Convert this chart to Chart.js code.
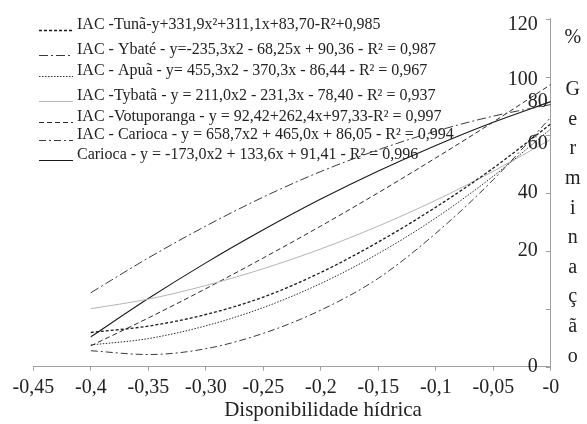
<!DOCTYPE html>
<html><head><meta charset="utf-8">
<script src="https://cdn.jsdelivr.net/npm/chart.js@4"></script>
<style>html,body{margin:0;padding:0;background:#fff}#wrap{width:587px;height:424px}</style>
</head><body><div id="wrap"><canvas id="c" width="587" height="424"></canvas></div>
<script>
// ---- data ----
const xValues     = [-0.4, -0.35, -0.3, -0.25, -0.2, -0.15, -0.1, -0.05, 0];
const tuna        = [11.8, 14.0, 18.0, 24.0, 32.5, 43.0, 55.0, 68.5, 83.7];
const ybate       = [25.5, 37.5, 48.5, 58.5, 67.3, 74.8, 81.2, 86.4, 90.4];
const apua        = [7.5, 9.7, 14.1, 20.4, 28.7, 39.0, 51.3, 65.7, 82.0];
const tybata      = [20.0, 23.3, 28.0, 33.8, 40.6, 48.5, 57.4, 67.4, 78.4];
const votuporanga = [7.2, 16.8, 26.9, 37.5, 48.5, 60.0, 72.0, 84.4, 97.3];
const iacCarioca  = [5.5, 4.2, 6.2, 11.5, 19.5, 30.5, 46.0, 64.5, 86.0];
const carioca     = [10.3, 23.5, 35.8, 47.2, 57.8, 67.5, 76.3, 84.3, 91.4];

const seriesLabels = [
  "IAC -Tunã-y+331,9x²+311,1x+83,70-R²+0,985",
  "IAC - Ybaté - y=-235,3x2 - 68,25x + 90,36 - R² = 0,987",
  "IAC - Apuã - y= 455,3x2 - 370,3x - 86,44 - R² = 0,967",
  "IAC -Tybatã - y = 211,0x2 - 231,3x - 78,40 - R² = 0,937",
  "IAC -Votuporanga - y = 92,42+262,4x+97,33-R² = 0,997",
  "IAC - Carioca - y = 658,7x2 + 465,0x + 86,05 - R² = 0,994",
  "Carioca - y = -173,0x2 + 133,6x + 91,41 - R² = 0,996"
];

const xTickValues = [-0.45, -0.4, -0.35, -0.3, -0.25, -0.2, -0.15, -0.1, -0.05, 0];
const xTickLabels = ["-0,45", "-0,4", "-0,35", "-0,30", "-0,25", "-0,2", "-0,15", "-0,1", "-0,05", "-0"];
const yTickValues = [0, 20, 40, 60, 80, 100, 120];
const yLabels      = ["0", "20", "40", "60", "80", "100", "120"];
const yLabelValues = [0, 40, 60, 77, 91.5, 99, 118];
const xTitle = "Disponibilidade hídrica";
const yUnit = "%";
const yTitle = "Germinação";

// ---- styles ----
const styles = [
  {color:'#1a1a1a', dash:[3,2], width:1.3},
  {color:'#3a3a3a', dash:[9,3,2,3], width:1},
  {color:'#2a2a2a', dash:[1.5,1.5], width:1},
  {color:'#b4b4b4', dash:[], width:1},
  {color:'#2a2a2a', dash:[5,3], width:1},
  {color:'#3a3a3a', dash:[7,3,2,3], width:1},
  {color:'#1a1a1a', dash:[], width:1.1}
];
const allSeries = [tuna, ybate, apua, tybata, votuporanga, iacCarioca, carioca];

const datasets = allSeries.map((arr, i) => ({
  label: seriesLabels[i],
  data: xValues.map((x, j) => ({x: x, y: arr[j]})),
  borderColor: styles[i].color,
  borderDash: styles[i].dash,
  borderWidth: styles[i].width,
  pointRadius: 0,
  fill: false,
  cubicInterpolationMode: 'monotone'
}));

const SERIF = '"Liberation Serif", "Times New Roman", serif';

const decor = {
  id: 'decor',
  afterDraw(chart) {
    const ctx = chart.ctx, ys = chart.scales.y, area = chart.chartArea;
    ctx.save();
    // y tick marks pointing inward
    ctx.strokeStyle = '#a0a0a0'; ctx.lineWidth = 1; ctx.setLineDash([]);
    yTickValues.forEach(v => {
      const py = Math.round(ys.getPixelForValue(v)) + 0.5;
      ctx.beginPath(); ctx.moveTo(area.right - 5, py); ctx.lineTo(area.right, py); ctx.stroke();
    });
    // y labels
    const inset = [13, 13, 13, 3, 3, 13, 13];
    ctx.fillStyle = '#222'; ctx.font = '20px ' + SERIF;
    ctx.textAlign = 'right'; ctx.textBaseline = 'middle';
    yLabels.forEach((t, i) => ctx.fillText(t, area.right - inset[i], ys.getPixelForValue(yLabelValues[i])));
    // vertical title on the right
    ctx.textAlign = 'center';
    const tx = area.right + 22;
    ctx.fillText(yUnit, tx, 38);
    const letters = Array.from(yTitle);
    letters.forEach((ch, i) => ctx.fillText(ch, tx, 90 + i * 29.6));
    // x title
    ctx.font = '21px ' + SERIF;
    ctx.fillText(xTitle, 323, 410);
    // legend
    const ly = [25, 50, 71, 96, 117, 135, 155];
    ctx.font = '16px ' + SERIF; ctx.textAlign = 'left';
    chart.data.datasets.forEach((ds, i) => {
      ctx.strokeStyle = ds.borderColor; ctx.lineWidth = ds.borderWidth;
      ctx.setLineDash(ds.borderDash);
      ctx.beginPath(); ctx.moveTo(39, ly[i] + 5.5); ctx.lineTo(73, ly[i] + 5.5); ctx.stroke();
      ctx.setLineDash([]);
      ctx.fillStyle = '#222';
      ctx.fillText(ds.label, 77, ly[i]);
    });
    ctx.restore();
  }
};

new Chart(document.getElementById('c'), {
  type: 'line',
  data: {datasets: datasets},
  options: {
    responsive: false, animation: false, devicePixelRatio: 1,
    layout: {padding: {left: 33.3, top: 18.7, right: 0, bottom: 0}},
    plugins: {legend: {display: false}, tooltip: {enabled: false}},
    scales: {
      x: {
        type: 'linear', min: -0.45, max: 0,
        afterBuildTicks: s => { s.ticks = xTickValues.map(v => ({value: v})); },
        afterFit: s => { s.height = 57.3; },
        grid: {drawOnChartArea: false, tickLength: 4, color: '#a0a0a0'},
        border: {color: '#a0a0a0'},
        ticks: {
          autoSkip: false, maxRotation: 0, padding: 5, color: '#222',
          font: {family: SERIF, size: 20},
          callback: (v, i) => xTickLabels[i]
        }
      },
      y: {
        type: 'linear', position: 'right', min: 0, max: 120,
        afterBuildTicks: s => { s.ticks = yTickValues.map(v => ({value: v})); },
        afterFit: s => { s.width = 36.2; },
        grid: {drawOnChartArea: false, drawTicks: false},
        border: {color: '#a0a0a0'},
        ticks: {display: false}
      }
    }
  },
  plugins: [decor]
});
</script></body></html>
